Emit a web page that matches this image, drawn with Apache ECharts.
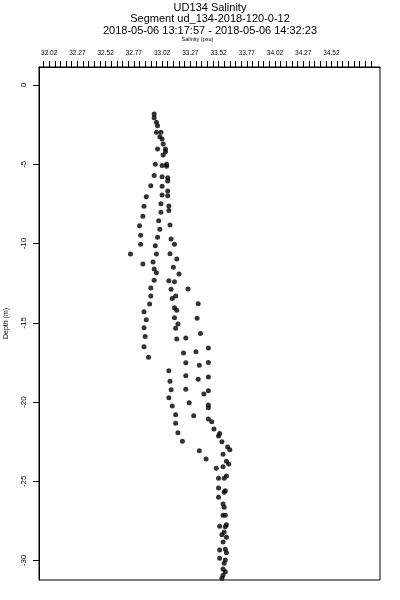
<!DOCTYPE html>
<html><head><meta charset="utf-8">
<script src="https://cdn.jsdelivr.net/npm/echarts@6/dist/echarts.min.js"></script>
<style>html,body{margin:0;padding:0;background:#fff}#c{width:400px;height:600px}</style>
</head><body><div id="c"></div>
<script>
const titleLines = ['UD134 Salinity', 'Segment ud_134-2018-120-0-12', '2018-05-06 13:17:57 - 2018-05-06 14:32:23'];
const xAxisName = 'Salinity (psu)';
const yAxisName = 'Depth (m)';
const xTickLabels = [32.02, 32.27, 32.52, 32.77, 33.02, 33.27, 33.52, 33.77, 34.02, 34.27, 34.52];
const yTickLabels = [0, -5, -10, -15, -20, -25, -30];
const xRange = [31.93, 34.95];
const yRange = [-31.23, 1.14];

const salinity = [
  32.95,32.95,32.97,32.98,32.97,33.01,33.00,33.02,33.03,32.98,33.05,33.05,33.03,32.96,33.02,33.06,33.06,32.95,33.02,33.07,33.07,32.92,33.02,
  33.07,33.07,32.88,33.02,32.86,33.01,33.08,33.08,33.01,32.85,32.99,32.82,33.09,33.00,32.83,32.98,33.10,32.83,32.96,33.13,32.74,32.97,33.09,33.15,32.85,32.94,33.12,32.95,
  32.97,33.17,32.95,33.08,33.13,32.92,33.10,33.25,32.92,33.11,33.14,32.91,33.34,33.13,33.15,32.86,32.88,33.13,33.33,33.16,33.14,32.86,33.36,32.87,33.15,33.23,32.86,33.43,
  33.21,33.32,32.90,33.23,33.43,33.35,33.08,33.09,33.23,33.34,33.43,33.10,33.23,33.43,33.39,33.08,33.11,33.26,33.43,33.43,33.14,33.30,33.43,33.46,33.14,33.48,
  33.16,33.53,33.52,33.20,33.55,33.60,33.62,33.35,33.56,33.41,33.59,33.61,33.50,33.56,33.59,33.57,33.52,33.52,33.58,33.57,33.52,33.56,
  33.57,33.56,33.58,33.59,33.58,33.53,33.57,33.55,33.59,33.56,33.53,33.58,33.59,33.53,33.58,33.57,33.56,33.58,33.56,33.55
];
const depth = [
  -1.83,-2.06,-2.35,-2.57,-2.98,-2.98,-3.26,-3.41,-3.72,-4.04,-4.04,-4.21,-4.42,-5.00,-5.07,-5.00,-5.13,-5.70,-5.79,-5.85,-6.06,-6.35,-6.39,
  -6.69,-6.98,-7.05,-6.94,-7.65,-7.49,-7.63,-7.91,-8.03,-8.28,-8.56,-8.88,-8.83,-9.10,-9.48,-9.61,-9.72,-10.05,-10.14,-10.05,-10.66,-10.66,-10.64,-10.98,-11.29,-11.17,-11.50,-11.61,
  -11.84,-11.92,-12.32,-12.35,-12.41,-12.81,-12.89,-12.87,-13.31,-13.46,-13.31,-13.82,-13.80,-14.05,-14.21,-14.30,-14.81,-14.68,-14.72,-15.08,-15.35,-15.31,-15.67,-15.86,-16.03,-15.96,-16.51,-16.59,
  -16.91,-16.83,-17.18,-17.52,-17.50,-17.68,-18.03,-18.69,-18.34,-18.57,-18.42,-19.22,-19.20,-19.29,-19.50,-19.73,-20.25,-20.04,-20.19,-20.36,-20.80,-20.86,-21.07,-21.24,-21.34,-21.70,
  -21.94,-21.98,-22.15,-22.48,-22.50,-22.84,-23.01,-23.07,-23.30,-23.60,-23.74,-23.91,-24.18,-24.08,-24.67,-24.81,-24.81,-25.43,-25.60,-25.70,-26.01,-26.44,
  -26.64,-27.15,-27.15,-27.74,-27.87,-27.84,-28.20,-28.37,-28.54,-28.83,-29.34,-29.29,-29.51,-29.86,-29.97,-30.18,-30.54,-30.71,-30.93,-31.12
];

const points = salinity.map((s, i) => [s, depth[i]]);
// minor ticks: 4 between each labelled tick, plus one step either side
const xMinorTicks = [];
for (let k = -1; k <= (xTickLabels.length - 1) * 5 + 7; k++) {
  const v = +(xTickLabels[0] + k * 0.05).toFixed(2);
  if (v >= xRange[0] && v <= xRange[1]) xMinorTicks.push(v);
}

const FONT = 'Liberation Sans, Arial, Helvetica, sans-serif';
const titleTops = [2, 12.5, 24.5];
const chart = echarts.init(document.getElementById('c'), null, {renderer: 'canvas'});
chart.setOption({
  animation: false,
  backgroundColor: '#fff',
  title: titleLines.map((t, i) => ({
    text: t, left: 210, top: titleTops[i], textAlign: 'center', padding: 0,
    textStyle: {fontFamily: FONT, fontSize: 11, fontWeight: 'normal', color: '#000', lineHeight: 12}
  })),
  grid: {left: 39, right: 20, top: 67, bottom: 20, containLabel: false, outerBoundsMode: 'none',
    show: true, borderColor: '#000', borderWidth: 1, backgroundColor: 'transparent'},
  xAxis: {
    type: 'value', position: 'top', min: xRange[0], max: xRange[1],
    name: xAxisName, nameLocation: 'middle', nameGap: 25,
    nameTextStyle: {fontFamily: FONT, fontSize: 5.5, color: '#000', padding: [0, 24, 0, 0]},
    axisLine: {show: true, onZero: false, lineStyle: {color: '#000', width: 1}},
    axisTick: {show: true, inside: false, length: 6, customValues: xMinorTicks, lineStyle: {color: '#000', width: 1}},
    axisLabel: {show: true, customValues: xTickLabels, margin: 10, fontFamily: FONT, fontSize: 6.5, color: '#000',
      formatter: v => v.toFixed(2)},
    splitLine: {show: false}
  },
  yAxis: {
    type: 'value', min: yRange[0], max: yRange[1],
    name: yAxisName, nameLocation: 'middle', nameGap: 29, nameRotate: 90,
    nameTextStyle: {fontFamily: FONT, fontSize: 7, color: '#000'},
    axisLine: {show: true, onZero: false, lineStyle: {color: '#000', width: 1}},
    axisTick: {show: true, inside: false, length: 6, customValues: yTickLabels, lineStyle: {color: '#000', width: 1}},
    axisLabel: {show: true, customValues: yTickLabels, rotate: 90, margin: 11, fontFamily: FONT, fontSize: 8, color: '#000'},
    splitLine: {show: false}
  },
  series: [{
    type: 'scatter', data: points, symbol: 'circle', symbolSize: 5,
    itemStyle: {color: '#000'}, silent: true
  }]
});
</script>
</body></html>
